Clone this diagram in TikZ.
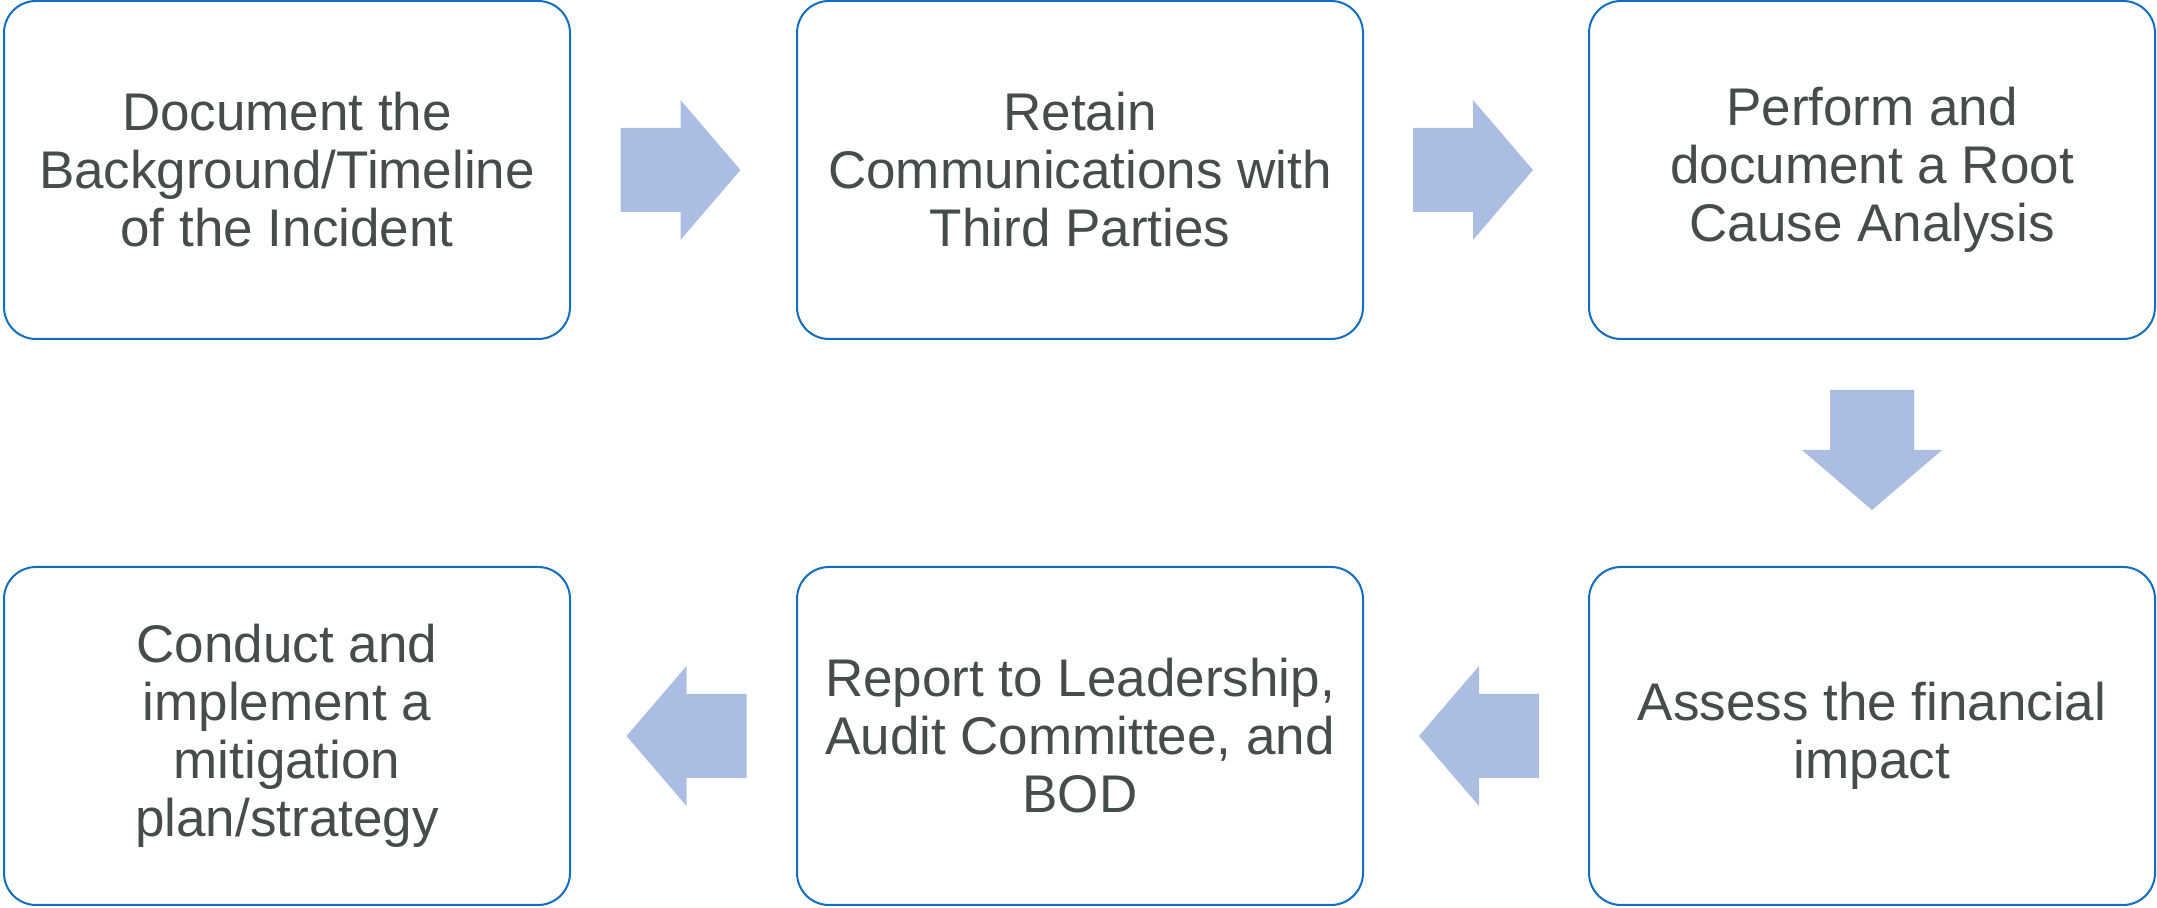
\documentclass[tikz,border=0pt]{standalone}
\usepackage{fontspec}
\setmainfont{Liberation Sans}
\usetikzlibrary{calc}
\definecolor{boxblue}{RGB}{18,110,196}
\definecolor{arrowfill}{RGB}{171,189,227}
\definecolor{textgrey}{RGB}{70,75,75}

\begin{document}
\begin{tikzpicture}[x=0.5pt, y=0.5pt,
  stepbox/.style={draw=boxblue, line width=1pt, rounded corners=16pt, fill=white,
    minimum width=283pt, minimum height=169pt, align=center, text=textgrey,
    font=\fontsize{26.5}{29}\selectfont},
  blockarrow/.pic={\fill[arrowfill] (-60,-42) -- (0,-42) -- (0,-70) -- (60,0)
    -- (0,70) -- (0,42) -- (-60,42) -- cycle;}]
  \useasboundingbox (0,0) rectangle (2157,908);
  % top row, left to right
  \node[stepbox] (doc) at (287,738) {Document the\\Background/Timeline\\of the Incident};
  \node[stepbox] (retain) at (1080,738) {Retain\\Communications with\\Third Parties};
  \node[stepbox] (rca) at (1872,738) {Perform and\\document a Root\\Cause Analysis};
  % bottom row, right to left
  \node[stepbox] (impact) at (1872,172) {Assess the financial\\impact};
  \node[stepbox] (report) at (1080,172) {Report to Leadership,\\Audit Committee, and\\BOD};
  \node[stepbox] (mitigate) at (287,172) {Conduct and\\implement a\\mitigation\\plan/strategy};
  % block arrows between the steps
  \pic at ($(doc.east)!0.5!(retain.west)+(-3,0)$) {blockarrow};
  \pic at ($(retain.east)!0.5!(rca.west)+(-3,0)$) {blockarrow};
  \pic[rotate=-90] at ($(rca.south)!0.5!(impact.north)+(0,3)$) {blockarrow};
  \pic[rotate=180] at ($(impact.west)!0.5!(report.east)+(3,0)$) {blockarrow};
  \pic[rotate=180] at ($(report.west)!0.5!(mitigate.east)+(3,0)$) {blockarrow};
\end{tikzpicture}
\end{document}
